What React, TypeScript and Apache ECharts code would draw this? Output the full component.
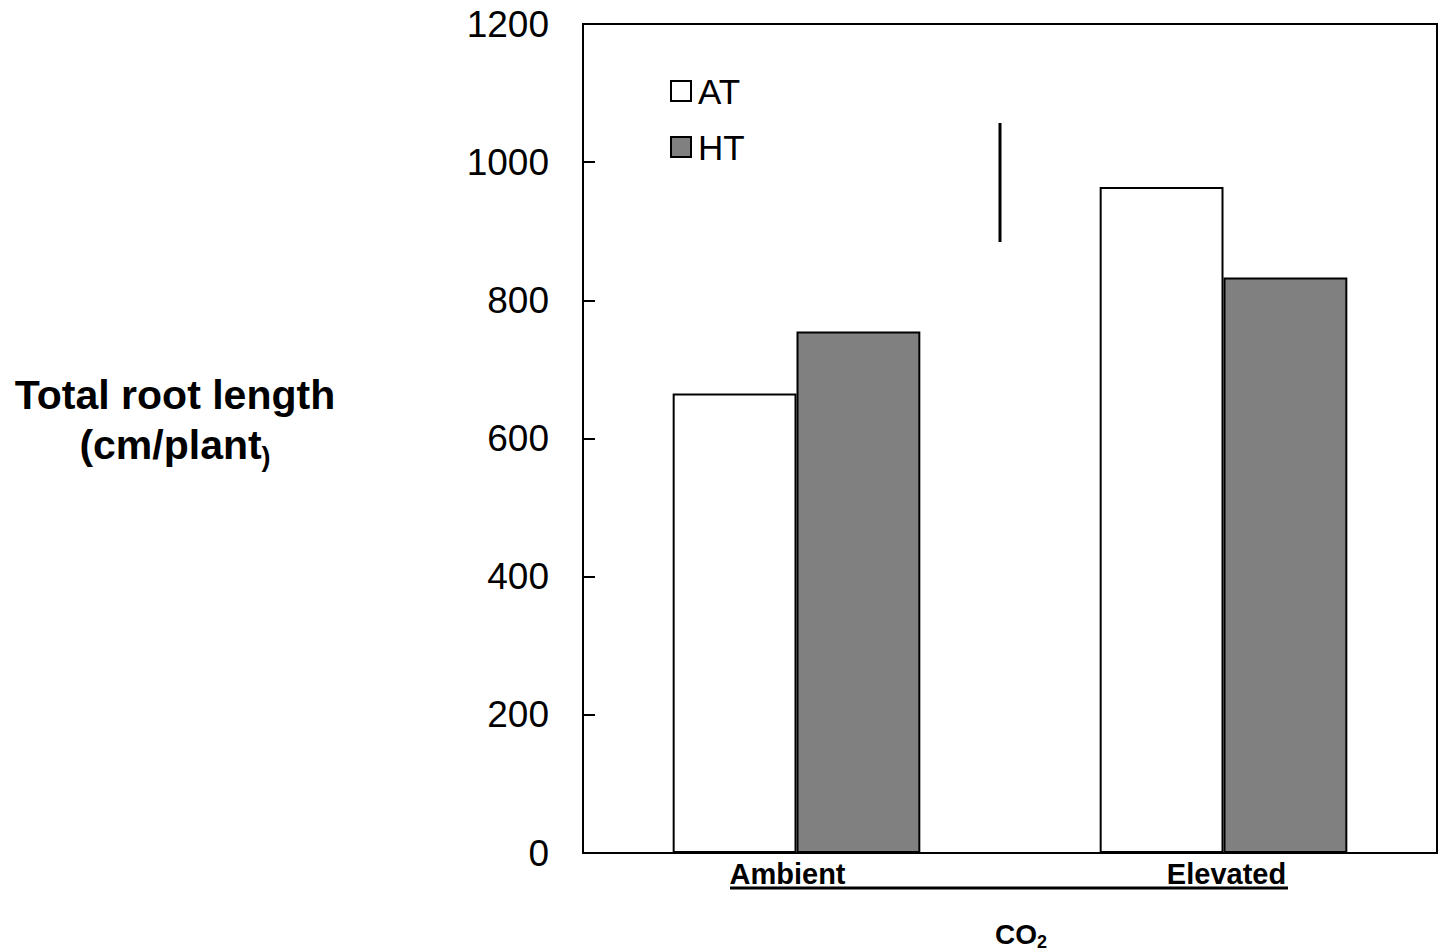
import React, { useEffect, useRef } from "react";
import * as echarts from "echarts";

const categories = ["Ambient", "Elevated"];
const seriesNames = ["AT", "HT"];
const atValues = [665, 964];
const htValues = [755, 833];
const yTicks = { min: 0, max: 1200, interval: 200 };

const FONT = "'Liberation Sans', Arial, sans-serif";

export default function App() {
  const ref = useRef<HTMLDivElement>(null);
  useEffect(() => {
    if (!ref.current) return;
    const chart = echarts.init(ref.current, null, { renderer: "svg" });
    const labelStyle = { fontFamily: FONT, fontSize: 29, fontWeight: "bold", color: "#000" };
    chart.setOption({
      animation: false,
      backgroundColor: "#fff",
      textStyle: { fontFamily: FONT },
      grid: {
        left: 583,
        top: 24,
        right: 4,
        bottom: 98,
        show: true,
        borderColor: "#000",
        borderWidth: 2,
        backgroundColor: "transparent",
      },
      legend: {
        orient: "vertical",
        left: 665,
        top: 68,
        itemWidth: 20,
        itemHeight: 20,
        itemGap: 20,
        icon: "rect",
        data: seriesNames,
        textStyle: { fontFamily: FONT, fontSize: 35, color: "#000", lineHeight: 36, padding: [0, 0, 0, 2] },
      },
      xAxis: {
        type: "category",
        data: categories,
        axisLine: { lineStyle: { color: "#000", width: 2 } },
        axisTick: { show: false },
        axisLabel: {
          ...labelStyle,
          margin: 6,
          formatter: (v: string, i: number) => (i === 0 ? `{l|${v}}` : `{r|${v}}`),
          rich: {
            l: { ...labelStyle, padding: [0, 18, 0, 0] },
            r: { ...labelStyle, padding: [0, 0, 0, 6] },
          },
        },
      },
      yAxis: {
        type: "value",
        min: yTicks.min,
        max: yTicks.max,
        interval: yTicks.interval,
        splitLine: { show: false },
        axisLine: { show: true, lineStyle: { color: "#000", width: 2 } },
        axisTick: { show: true, inside: true, length: 12, lineStyle: { color: "#000", width: 2 } },
        axisLabel: {
          fontFamily: FONT,
          fontSize: 37,
          color: "#000",
          margin: 34,
          formatter: (v: number) => String(v),
        },
      },
      series: [
        {
          name: seriesNames[0],
          type: "bar",
          data: atValues,
          barGap: "0%",
          barCategoryGap: "42%",
          itemStyle: { color: "#ffffff", borderColor: "#000", borderWidth: 2 },
        },
        {
          name: seriesNames[1],
          type: "bar",
          data: htValues,
          barGap: "0%",
          barCategoryGap: "42%",
          itemStyle: { color: "#808080", borderColor: "#000", borderWidth: 2 },
        },
      ],
      graphic: [
        {
          type: "line",
          shape: { x1: 1000, y1: 123, x2: 1000, y2: 242 },
          style: { stroke: "#000", lineWidth: 3 },
        },
        {
          type: "line",
          shape: { x1: 730, y1: 888, x2: 1288, y2: 888 },
          style: { stroke: "#000", lineWidth: 3 },
        },
        {
          type: "text",
          x: 175,
          y: 420,
          style: {
            text: "{a|Total root length}\n{a|(cm/plant}{b|)}",
            align: "center",
            verticalAlign: "middle",
            rich: {
              a: { fontFamily: FONT, fontSize: 41, fontWeight: "bold", fill: "#000", lineHeight: 50 },
              b: { fontFamily: FONT, fontSize: 27, fontWeight: "bold", fill: "#000", lineHeight: 50, verticalAlign: "bottom" },
            },
          },
        },
        {
          type: "text",
          x: 1021,
          y: 934,
          style: {
            text: "{a|CO}{b|2}",
            align: "center",
            verticalAlign: "middle",
            rich: {
              a: { fontFamily: FONT, fontSize: 28, fontWeight: "bold", fill: "#000" },
              b: { fontFamily: FONT, fontSize: 18, fontWeight: "bold", fill: "#000", padding: [16, 0, 0, 0] },
            },
          },
        },
      ],
    });
    return () => chart.dispose();
  }, []);
  return (
    <div
      ref={ref}
      style={{ position: "fixed", left: 0, top: 0, width: 1441, height: 951, background: "#fff" }}
    />
  );
}
